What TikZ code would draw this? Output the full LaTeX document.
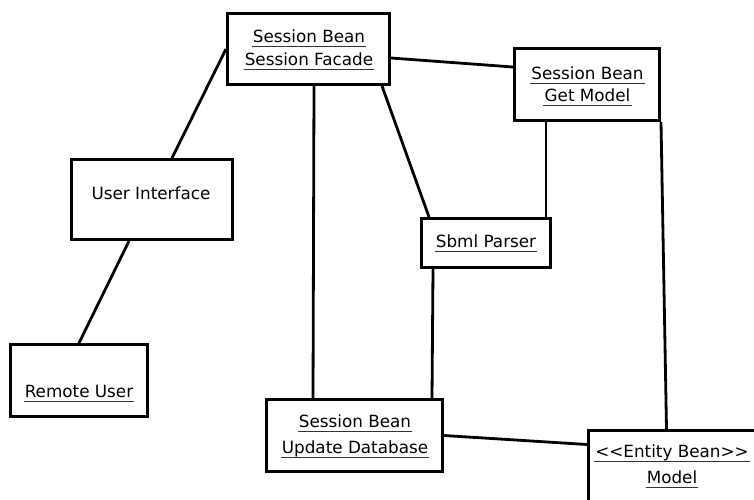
\documentclass[tikz,border=0pt]{standalone}
\usepackage{fontspec}
\setmainfont{DejaVu Sans}
\begin{document}
\begin{tikzpicture}[x=1pt,y=-1pt,
  box/.style={draw=black, line width=3pt, rectangle, inner sep=0pt, fill=none},
  conn/.style={draw=black, line width=2.8pt},
  txt/.style={anchor=base, inner sep=0pt, font=\fontsize{16.8}{20}\selectfont},
  ul/.style={draw=black!80, line width=1.1pt}]
\useasboundingbox (0,0) rectangle (754,499);
% boxes
\node[box, minimum width=162pt, minimum height=71pt] (facade) at (308.5,49) {};
\node[box, minimum width=161pt, minimum height=80pt] (ui) at (152,199.5) {};
\node[box, minimum width=145pt, minimum height=72pt] (gm) at (587,84.5) {};
\node[box, minimum width=129pt, minimum height=49pt] (sbml) at (486,243) {};
\node[box, minimum width=137pt, minimum height=72pt] (remote) at (79,380.5) {};
\node[box, minimum width=176pt, minimum height=72pt] (udb) at (354.5,435.5) {};
\node[box, minimum width=181.5pt, minimum height=89.5pt] (entity) at (679.25,475.25) {};
% texts
\node[txt] (fa1) at (309,42) {Session Bean};
\node[txt] (fa2) at (309,65) {Session Facade};
\node[txt] (uit) at (151,199) {User Interface};
\node[txt] (gm1) at (587.5,79) {Session Bean};
\node[txt] (gm2) at (587.5,101) {Get Model};
\node[txt] (sb1) at (486,247) {Sbml Parser};
\node[txt] (ru1) at (79,397) {Remote User};
\node[txt] (ud1) at (355,427) {Session Bean};
\node[txt] (ud2) at (355,453) {Update Database};
\node[txt] (en1) at (672,457) {{<}{<}Entity Bean{>}{>}};
\node[txt] (en2) at (672,483) {Model};
\foreach \n in {fa1,fa2,gm1,gm2,sb1,ru1,ud1,ud2,en1,en2}
  \draw[ul] ([xshift=-1pt,yshift=-4.5pt]\n.base west) -- ([xshift=1pt,yshift=-4.5pt]\n.base east);
% connectors
\draw[conn] (facade.west) -- ([xshift=20pt]ui.north);
\draw[conn] ([xshift=-23pt]ui.south) -- (remote.north);
\draw[conn] ([yshift=-9pt]facade.east) -- ([yshift=17.5pt]gm.west);
\draw[conn] ([xshift=73.5pt]facade.south) -- ([xshift=-57pt]sbml.north);
\draw[conn] ([xshift=5.5pt]facade.south) -- ([xshift=-41.5pt]udb.north);
\draw[conn] ([xshift=-41pt]gm.south) -- ([xshift=60pt]sbml.north);
\draw[conn] (gm.south east) -- ([xshift=79.5pt]entity.north west);
\draw[conn] ([xshift=-53pt]sbml.south) -- ([xshift=77.5pt]udb.north);
\draw[conn] (udb.east) -- ([yshift=-15.5pt]entity.north west);
\end{tikzpicture}
\end{document}
